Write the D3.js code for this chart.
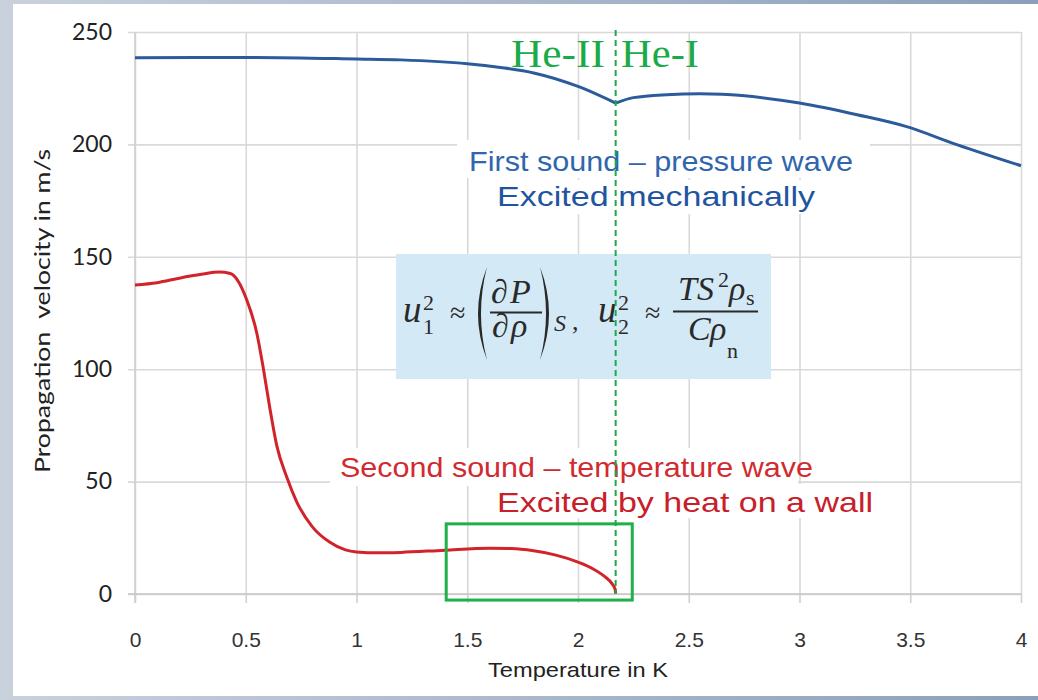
<!DOCTYPE html>
<html>
<head>
<meta charset="utf-8">
<script src="https://cdn.jsdelivr.net/npm/d3@7"></script>
<style>
    html, body { margin: 0; padding: 0; background: #fff; }
    svg { display: block; }
</style>
</head>
<body>
<svg id="chart" width="1038" height="700"></svg>
<script>
// values: temperature in K, velocity in m/s
var tempTicks = [0, 0.5, 1, 1.5, 2, 2.5, 3, 3.5, 4];
var tempLabels = ["0", "0.5", "1", "1.5", "2", "2.5", "3", "3.5", "4"];
var velTicks = [0, 50, 100, 150, 200, 250];
var lambdaT = 2.17;

// first sound, below and above the lambda point
var firstLowT = [0, 0.5, 1.0, 1.2, 1.5, 1.65, 1.8, 2.0, 2.17];
var firstLowV = [238.6, 238.7, 238.0, 237.6, 235.9, 234.2, 231.8, 225.8, 218.4];
var firstHighT = [2.17, 2.25, 2.4, 2.55, 2.65, 3.0, 3.26, 3.48, 3.71, 4.0];
var firstHighV = [218.4, 220.8, 222.1, 222.5, 222.3, 218.4, 213.2, 208.0, 199.9, 190.5];

// second sound
var secondT = [0, 0.1, 0.2, 0.3, 0.38, 0.43, 0.47, 0.5, 0.55, 0.58, 0.61, 0.64, 0.685, 0.73, 0.8, 0.88, 0.95, 1.0, 1.1, 1.2, 1.4, 1.6, 1.7, 1.8, 1.9, 2.0, 2.06, 2.12, 2.155, 2.168, 2.17];
var secondV = [137.5, 138.5, 140.5, 142.2, 143.2, 142.6, 138.5, 132, 116, 100, 82, 66, 52, 41, 30, 23, 19.6, 18.7, 18.3, 18.5, 19.5, 20.3, 20.2, 19.2, 17.3, 14.2, 11.6, 7.8, 4.4, 2.0, 0.3];

// zoom box around the second sound near T_lambda
var boxT = [1.405, 2.245];
var boxV = [-2.7, 31.2];

var svg = d3.select("#chart");

// slide background
var grad = svg.append("defs").append("linearGradient")
    .attr("id", "bg")
    .attr("x1", "0").attr("x2", "1").attr("y1", "0").attr("y2", "0");
grad.append("stop").attr("offset", "0").attr("stop-color", "#c9d1dd");
grad.append("stop").attr("offset", "1").attr("stop-color", "#8c9fba");
svg.append("rect").attr("width", 1038).attr("height", 700).attr("fill", "url(#bg)");
svg.append("rect").attr("x", 13).attr("y", 4).attr("width", 1025).attr("height", 692).attr("fill", "#fff");

var x = d3.scaleLinear().domain([0, 4]).range([135, 1021]);
var y = d3.scaleLinear().domain([0, 250]).range([594, 32]);

// grid
svg.append("g")
    .attr("class", "grid")
    .attr("transform", "translate(0," + y(0) + ")")
    .call(d3.axisBottom(x).tickValues(tempTicks).tickSize(-(y(0) - y(250))).tickFormat(""))
    .call(function(g) { g.select(".domain").remove(); });
svg.append("g")
    .attr("class", "grid")
    .attr("transform", "translate(" + x(4) + ",0)")
    .call(d3.axisLeft(y).tickValues(velTicks).tickSize(x(4) - x(0) + 7).tickFormat(""))
    .call(function(g) { g.select(".domain").remove(); });
svg.selectAll(".grid line").attr("stroke", "#d9d9d9").attr("stroke-width", 1.6);

// axes
var xAxis = svg.append("g")
    .attr("transform", "translate(0," + y(0) + ")")
    .call(d3.axisBottom(x).tickValues(tempTicks).tickSize(9).tickPadding(29)
        .tickFormat(function(d, i) { return tempLabels[i]; }));
xAxis.select(".domain").remove();
xAxis.selectAll("line").attr("stroke", "#d0d0d0").attr("stroke-width", 1.6);
xAxis.selectAll("text")
    .attr("fill", "#333")
    .style("font-family", "'Liberation Sans', Arial, sans-serif")
    .style("font-size", "21px");

var yAxis = svg.append("g")
    .attr("transform", "translate(" + x(0) + ",0)")
    .call(d3.axisLeft(y).tickValues(velTicks).tickSize(0).tickPadding(23));
yAxis.select(".domain").remove();
yAxis.selectAll("text")
    .attr("fill", "#222")
    .style("font-family", "Lato, 'Open Sans', sans-serif")
    .style("font-size", "23px");

svg.append("line")
    .attr("x1", x(0)).attr("x2", x(0))
    .attr("y1", y(250)).attr("y2", y(0) + 9)
    .attr("stroke", "#d0d0d0").attr("stroke-width", 1.6);
svg.append("line")
    .attr("x1", x(0) - 7).attr("x2", x(4))
    .attr("y1", y(0)).attr("y2", y(0))
    .attr("stroke", "#c8c4c4").attr("stroke-width", 1.6);

svg.append("text")
    .attr("x", 578).attr("y", 677)
    .attr("text-anchor", "middle")
    .attr("fill", "#222")
    .style("font-family", "'Liberation Sans', Arial, sans-serif")
    .style("font-size", "21px")
    .attr("textLength", 180)
    .attr("lengthAdjust", "spacingAndGlyphs")
    .text("Temperature in K");

svg.append("text")
    .attr("transform", "translate(50,311) rotate(-90)")
    .attr("text-anchor", "middle")
    .attr("fill", "#222")
    .style("font-family", "Lato, 'Open Sans', sans-serif")
    .style("font-size", "22px")
    .style("white-space", "pre")
    .attr("textLength", 324)
    .attr("lengthAdjust", "spacingAndGlyphs")
    .text("Propagation  velocity in m/s");

// white patches behind the labels (they hide the grid)
[[457, 140, 413, 38], [490, 180, 330, 34], [330, 448, 468, 38], [490, 484, 392, 34]].forEach(function(r) {
    svg.append("rect").attr("x", r[0]).attr("y", r[1]).attr("width", r[2]).attr("height", r[3]).attr("fill", "#fff");
});

// curves
var line = d3.line()
    .x(function(d) { return x(d[0]); })
    .y(function(d) { return y(d[1]); })
    .curve(d3.curveMonotoneX);

[[firstLowT, firstLowV], [firstHighT, firstHighV]].forEach(function(s) {
    svg.append("path")
        .datum(d3.zip(s[0], s[1]))
        .attr("d", line)
        .attr("fill", "none")
        .attr("stroke", "#2b5b9b")
        .attr("stroke-width", 3);
});

svg.append("path")
    .datum(d3.zip(secondT, secondV))
    .attr("d", line)
    .attr("fill", "none")
    .attr("stroke", "#d2232a")
    .attr("stroke-width", 3);

// formula box
var fb = svg.append("g").attr("class", "formula");
fb.append("rect").attr("x", 396).attr("y", 254).attr("width", 375).attr("height", 125).attr("fill", "#d3e9f6");

var serif = "'Liberation Serif', 'DejaVu Serif', serif";
var ink = "#2a2a2a";
function ft(xp, yp, txt, size, italic) {
    return fb.append("text")
        .attr("x", xp).attr("y", yp)
        .attr("fill", ink)
        .style("font-family", serif)
        .style("font-size", size + "px")
        .style("font-style", italic ? "italic" : "normal")
        .text(txt);
}
ft(403, 322, "u", 37, true);
ft(423, 310, "2", 22, false);
ft(423, 334, "1", 22, false);
ft(450, 322, "\u2248", 28, false);
fb.append("path").attr("d", "M487,267 Q469,313.5 487,360 Q475,313.5 487,267 Z").attr("fill", ink);
ft(491, 303, "\u2202", 34, false);
ft(510, 303, "P", 34, true);
fb.append("line").attr("x1", 490).attr("x2", 542).attr("y1", 312.5).attr("y2", 312.5).attr("stroke", ink).attr("stroke-width", 1.8);
ft(492, 337, "\u2202", 34, false);
ft(511, 337, "\u03c1", 34, true);
fb.append("path").attr("d", "M540,267 Q558,313.5 540,360 Q552,313.5 540,267 Z").attr("fill", ink);
ft(554, 331, "S", 24, true);
ft(572, 330, ",", 26, false);
ft(598, 322, "u", 37, true);
ft(618, 310, "2", 22, false);
ft(618, 334, "2", 22, false);
ft(645, 322, "\u2248", 28, false);
ft(678, 300, "TS", 34, true);
ft(718, 287, "2", 22, false);
ft(729, 300, "\u03c1", 34, true);
ft(746, 305, "s", 22, false);
fb.append("line").attr("x1", 673).attr("x2", 758).attr("y1", 311.5).attr("y2", 311.5).attr("stroke", ink).attr("stroke-width", 1.8);
ft(688, 340, "C", 34, true);
ft(710, 340, "\u03c1", 34, true);
ft(727, 358, "n", 22, false);

// lambda line and phase labels
var green = "#1aab48";
svg.append("text")
    .attr("x", 605).attr("y", 67)
    .attr("text-anchor", "end")
    .attr("fill", green)
    .style("font-family", serif).style("font-size", "41px")
    .attr("textLength", 94).attr("lengthAdjust", "spacingAndGlyphs")
    .text("He-II");
svg.append("text")
    .attr("x", 621).attr("y", 67)
    .attr("fill", green)
    .style("font-family", serif).style("font-size", "41px")
    .attr("textLength", 78).attr("lengthAdjust", "spacingAndGlyphs")
    .text("He-I");

svg.append("rect")
    .attr("x", x(boxT[0])).attr("y", y(boxV[1]))
    .attr("width", x(boxT[1]) - x(boxT[0]))
    .attr("height", y(boxV[0]) - y(boxV[1]))
    .attr("fill", "none")
    .attr("stroke", "#1fb04a")
    .attr("stroke-width", 3);

// annotations
var sans = "'Liberation Sans', Arial, sans-serif";
function note(xp, yp, txt, w, col) {
    svg.append("text")
        .attr("x", xp).attr("y", yp)
        .attr("fill", col)
        .style("font-family", sans)
        .style("font-size", "28px")
        .attr("textLength", w)
        .attr("lengthAdjust", "spacingAndGlyphs")
        .text(txt);
}
note(469, 171, "First sound \u2013 pressure wave", 384, "#2f66ad");
note(497, 206, "Excited mechanically", 318, "#1f55a0");
note(340, 477, "Second sound \u2013 temperature wave", 473, "#d12a30");
note(497, 512, "Excited by heat on a wall", 376, "#c8202a");

// dashed lambda line on top of everything
svg.append("line")
    .attr("x1", x(lambdaT)).attr("x2", x(lambdaT))
    .attr("y1", 30).attr("y2", y(0))
    .attr("stroke", green).attr("stroke-width", 2)
    .attr("stroke-dasharray", "6,4");
</script>
</body>
</html>
